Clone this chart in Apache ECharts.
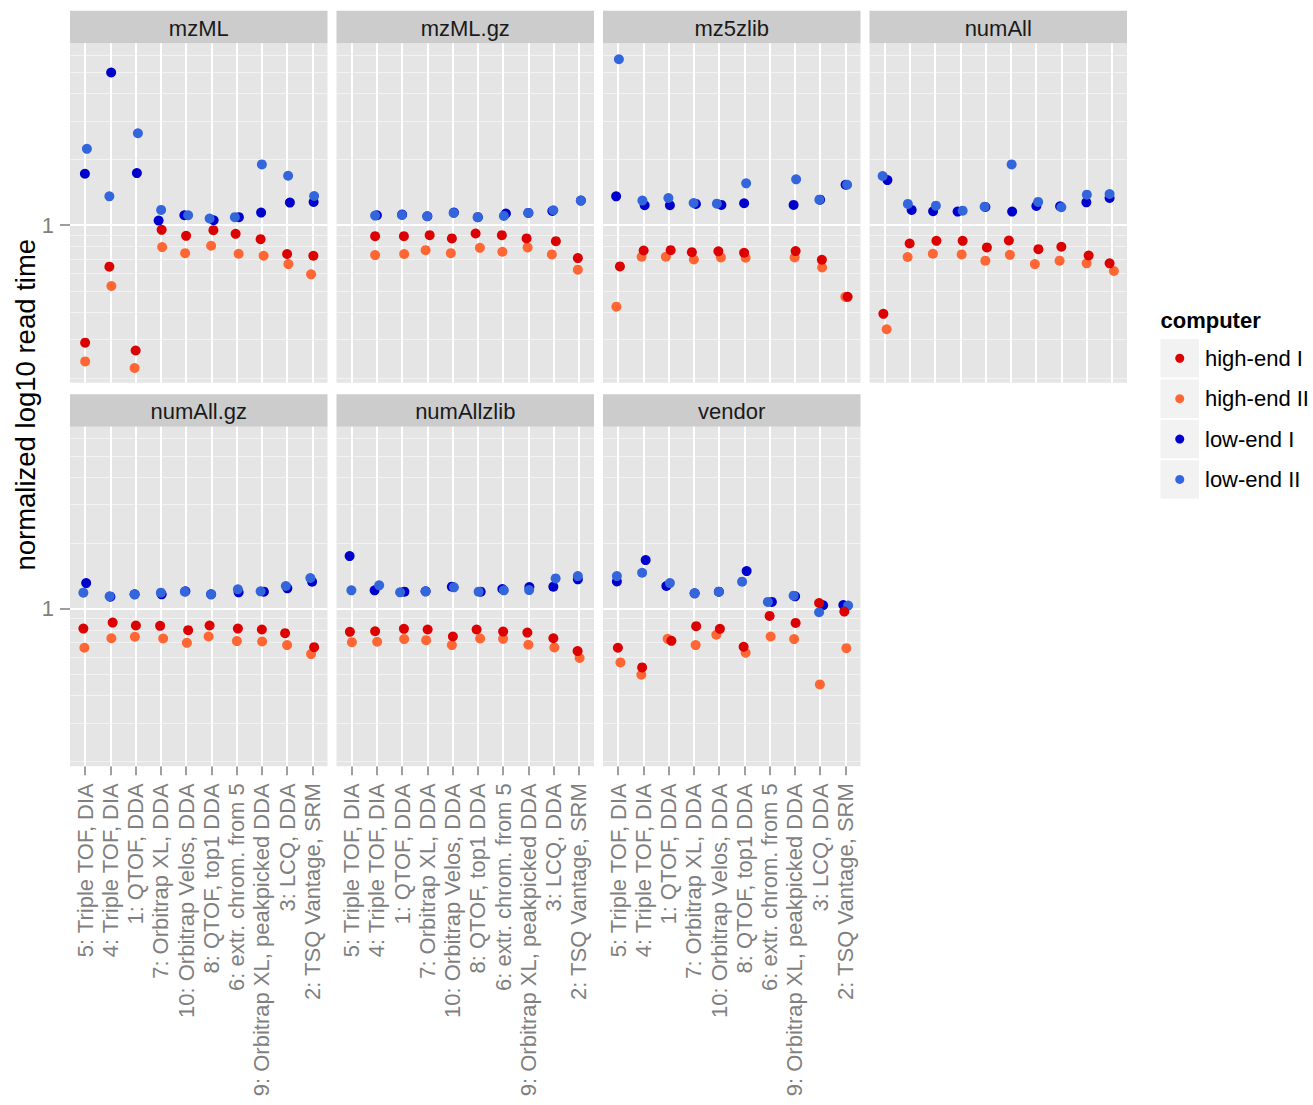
<!DOCTYPE html>
<html>
<head>
<meta charset="utf-8">
<script src="https://cdn.jsdelivr.net/npm/echarts@6/dist/echarts.min.js"></script>
<style>
  html, body { margin: 0; padding: 0; background: #ffffff; }
  #chart { width: 1313px; height: 1105px; }
</style>
</head>
<body>
<div id="chart"></div>
<script>
// File formats, one facet each (facet order)
const formats = ['mzML', 'mzML.gz', 'mz5zlib', 'numAll', 'numAll.gz', 'numAllzlib', 'vendor'];

// Data sets on the x axis
const datasets = [
  '5: Triple TOF, DIA', '4: Triple TOF, DIA', '1: QTOF, DDA', '7: Orbitrap XL, DDA',
  '10: Orbitrap Velos, DDA', '8: QTOF, top1 DDA', '6: extr. chrom. from 5',
  '9: Orbitrap XL, peakpicked DDA', '3: LCQ, DDA', '2: TSQ Vantage, SRM'
];

const computers = ['high-end I', 'high-end II', 'low-end I', 'low-end II'];
const computerColors = ['#DD0000', '#FF6633', '#0000CC', '#3366DD'];

// Normalized read times; one row per format, one entry per data set (null = no run)
const highEndI = [
  [0.290, 0.646, 0.267, 0.952, 0.894, 0.949, 0.913, 0.863, 0.738, 0.725],
  [null,  0.891, 0.891, 0.900, 0.870, 0.916, 0.900, 0.870, 0.845, 0.707],
  [0.648, 0.766, 0.769, 0.753, 0.759, 0.748, null,  0.761, 0.695, 0.470],
  [0.393, 0.825, 0.848, 0.848, 0.791, 0.851, 0.777, 0.797, 0.727, 0.669],
  [0.810, 0.863, 0.837, 0.834, 0.797, 0.837, 0.810, 0.802, 0.772, 0.666],
  [0.783, 0.788, 0.808, 0.802, 0.745, 0.802, 0.785, 0.777, 0.732, 0.639],
  [0.662, 0.538, 0.712, 0.831, 0.808, 0.669, 0.926, 0.860, 1.061, 0.969]
];
const highEndII = [
  [0.238, 0.527, 0.222, 0.794, 0.745, 0.805, 0.740, 0.725, 0.664, 0.596],
  [null,  0.730, 0.738, 0.769, 0.745, 0.788, 0.756, 0.791, 0.735, 0.626],
  [0.424, 0.717, 0.717, 0.697, 0.712, 0.710, null,  0.712, 0.641, 0.470],
  [0.334, 0.715, 0.740, 0.735, 0.688, 0.732, 0.664, 0.688, 0.669, 0.617],
  [0.662, 0.732, 0.743, 0.730, 0.697, 0.745, 0.710, 0.707, 0.681, 0.619],
  [0.702, 0.705, 0.725, 0.717, 0.681, 0.730, 0.727, 0.683, 0.664, 0.594],
  [0.567, 0.498, 0.727, 0.681, 0.759, 0.628, 0.745, 0.725, 0.450, 0.659]
];
const lowEndI = [
  [1.720, 5.000, 1.732, 1.050, 1.111, 1.054, 1.088, 1.142, 1.269, 1.278],
  [null,  1.111, 1.118, 1.099, 1.142, 1.088, 1.130, 1.138, 1.162, 1.296],
  [1.356, 1.234, 1.234, 1.251, 1.238, 1.260, null,  1.238, 1.309, 1.532],
  [1.609, 1.175, 1.158, 1.154, 1.212, 1.154, 1.225, 1.221, 1.273, 1.332],
  [1.309, 1.134, 1.162, 1.162, 1.200, 1.162, 1.187, 1.195, 1.238, 1.328],
  [1.739, 1.212, 1.195, 1.200, 1.260, 1.195, 1.229, 1.255, 1.260, 1.361],
  [1.332, 1.667, 1.269, 1.175, 1.195, 1.485, 1.073, 1.138, 1.036, 1.039]
];
const lowEndII = [
  [2.236, 1.356, 2.636, 1.175, 1.111, 1.073, 1.088, 1.897, 1.684, 1.361],
  [null,  1.107, 1.115, 1.099, 1.138, 1.088, 1.103, 1.138, 1.171, 1.296],
  [5.750, 1.296, 1.332, 1.264, 1.255, 1.554, null,  1.621, 1.309, 1.532],
  [1.679, 1.251, 1.229, 1.166, 1.216, 1.897, 1.278, 1.208, 1.380, 1.390],
  [1.183, 1.138, 1.162, 1.183, 1.195, 1.162, 1.225, 1.200, 1.269, 1.380],
  [1.212, 1.278, 1.187, 1.200, 1.251, 1.195, 1.212, 1.216, 1.375, 1.409],
  [1.409, 1.459, 1.309, 1.175, 1.195, 1.328, 1.073, 1.146, 0.962, 1.032]
];

// Horizontal jitter of each point, in category units
const jitterHighEndI = [
  [0, -0.04, 0, 0.03, 0, 0.08, -0.04, -0.05, 0, 0.04],
  [0, -0.07, 0.07, 0.09, -0.03, -0.09, -0.05, -0.07, 0.09, -0.04],
  [0.07, 0.01, 0.08, -0.08, -0.03, -0.01, 0, 0.03, 0.07, 0.09],
  [-0.05, -0.01, 0.05, 0.09, 0.05, -0.08, 0.09, 0, 0.08, -0.09],
  [-0.07, 0.09, 0.01, -0.03, 0.08, -0.07, 0.05, 0, -0.08, 0.07],
  [-0.07, -0.07, 0.07, 0.01, 0.01, -0.05, 0, -0.04, -0.01, -0.05],
  [-0.01, -0.05, 0.11, 0.09, 0.03, -0.03, 0, 0.03, -0.04, -0.04]
];
const jitterHighEndII = [
  [0, 0.04, -0.04, 0.05, -0.04, -0.01, 0.08, 0.07, 0.05, -0.05],
  [0, -0.07, 0.08, -0.07, -0.07, 0.08, -0.03, -0.03, -0.07, -0.04],
  [-0.07, -0.07, -0.11, 0, 0.07, 0.05, 0, -0.01, 0.08, 0],
  [0.08, -0.09, -0.09, 0.05, -0.01, -0.04, -0.05, -0.07, 0, 0.08],
  [-0.03, 0.04, -0.03, 0.09, 0.03, -0.11, 0.01, 0.01, 0, -0.05],
  [0.01, 0.01, 0.08, -0.05, -0.03, 0.09, 0, 0, 0.03, 0.03],
  [0.09, -0.08, -0.04, 0.07, -0.11, 0.05, 0.04, -0.03, -0.01, 0.04]
];
const jitterLowEndI = [
  [-0.01, 0.03, 0.05, -0.09, -0.07, 0.09, 0.09, -0.03, 0.11, 0.05],
  [0, 0, 0, 0, 0.05, 0, 0.11, 0, -0.05, 0.08],
  [-0.08, 0.05, 0.05, 0.08, 0.09, -0.01, 0, -0.05, 0, 0.01],
  [0.11, 0.07, -0.08, -0.11, -0.01, 0.05, 0.01, -0.05, -0.01, -0.09],
  [0.04, 0, -0.04, 0.03, -0.03, -0.01, 0.08, 0.08, 0.01, -0.01],
  [-0.08, -0.09, 0.09, -0.07, -0.03, 0.11, -0.03, 0.04, -0.01, -0.04],
  [-0.05, 0.09, -0.09, 0.03, -0.01, 0.09, 0.09, 0.01, 0.12, -0.08]
];
const jitterLowEndII = [
  [0.07, -0.04, 0.09, 0.01, 0.08, -0.07, -0.07, 0, 0.04, 0.07],
  [0, -0.07, -0.01, -0.01, 0.04, -0.01, 0.03, 0, -0.01, 0.08],
  [0.03, -0.04, -0.01, -0.01, -0.09, 0.07, 0, 0.05, -0.03, 0.07],
  [-0.08, -0.08, 0.03, 0.09, -0.04, 0.03, 0.08, 0, 0.01, -0.09],
  [-0.07, -0.03, -0.04, 0, -0.05, -0.01, 0.05, -0.05, -0.05, -0.08],
  [-0.01, 0.09, -0.08, -0.07, 0.05, 0.03, 0.03, 0.03, 0.08, -0.04],
  [-0.05, -0.05, 0.05, 0.03, -0.01, -0.09, -0.07, -0.05, -0.04, 0.11]
];

// Y axis breaks (log scale)
const yLabelBreaks = [1];
const yMinorBreaks = [0.2, 0.3, 0.4, 0.5, 0.6, 0.7, 0.8, 0.9, 2, 3, 4, 5, 6];

// ---- layout ----
const FONT = '"Liberation Sans", Arial, Helvetica, sans-serif';
const PANEL_LEFT = [70, 336.5, 603, 869.5];
const PANEL_TOP = [43.3, 426.7];
const PANEL_W = 257.5;
const PANEL_H = 339.5;
const STRIP_H = 32.5;
const Y_MIN = 0.19;
const Y_MAX = 6.8;

const seriesValues = [lowEndI, lowEndII, highEndII, highEndI];
const seriesJitter = [jitterLowEndI, jitterLowEndII, jitterHighEndII, jitterHighEndI];
const seriesComputer = [2, 3, 1, 0];

const categoryTicks = datasets.map((_, j) => j + 1);

function points(values, jitter) {
  const out = [];
  values.forEach((v, j) => {
    if (v != null) out.push([j + 1 + jitter[j], v]);
  });
  return out;
}

const grids = [], xAxes = [], yAxes = [], series = [], graphics = [];

formats.forEach((fmt, i) => {
  const row = Math.floor(i / 4), col = i % 4;
  const left = PANEL_LEFT[col], top = PANEL_TOP[row];
  const showX = row === 1;
  const showY = col === 0;

  grids.push({
    left: left, top: top, width: PANEL_W, height: PANEL_H,
    containLabel: false, outerBoundsMode: 'none',
    show: true, backgroundColor: '#E5E5E5', borderWidth: 0
  });

  xAxes.push({
    gridIndex: i, type: 'value', min: 0.4, max: 10.6,
    splitLine: { show: false }, axisLine: { show: false },
    axisTick: {
      show: showX, customValues: categoryTicks, length: 9,
      lineStyle: { color: '#7F7F7F', width: 1.5 }
    },
    axisLabel: {
      show: showX, customValues: categoryTicks, rotate: 90, margin: 17,
      hideOverlap: false,
      formatter: v => datasets[Math.round(v) - 1],
      color: '#7F7F7F', fontSize: 22, fontFamily: FONT
    }
  });

  yAxes.push({
    gridIndex: i, type: 'log', logBase: 10, min: Y_MIN, max: Y_MAX,
    splitLine: { show: false }, axisLine: { show: false },
    axisTick: {
      show: showY, customValues: yLabelBreaks, length: 10,
      lineStyle: { color: '#7F7F7F', width: 1.5 }
    },
    axisLabel: {
      show: showY, customValues: yLabelBreaks, margin: 16,
      formatter: v => String(Math.round(v * 1000) / 1000),
      color: '#7F7F7F', fontSize: 22, fontFamily: FONT
    }
  });

  // panel grid lines
  series.push({
    type: 'scatter', xAxisIndex: i, yAxisIndex: i, data: [], silent: true,
    markLine: {
      silent: true, z: 1, animation: false,
      symbol: ['none', 'none'], label: { show: false },
      emphasis: { disabled: true },
      data: [
        ...yMinorBreaks.map(v => ({ yAxis: v, lineStyle: { color: '#F2F2F2', width: 1, type: 'solid' } })),
        ...yLabelBreaks.map(v => ({ yAxis: v, lineStyle: { color: '#FFFFFF', width: 2, type: 'solid' } })),
        ...categoryTicks.map(v => ({ xAxis: v, lineStyle: { color: '#FFFFFF', width: 2, type: 'solid' } }))
      ]
    }
  });

  seriesValues.forEach((vals, s) => {
    const c = seriesComputer[s];
    series.push({
      type: 'scatter', name: computers[c], xAxisIndex: i, yAxisIndex: i,
      symbol: 'circle', symbolSize: 10, silent: true, animation: false,
      itemStyle: { color: computerColors[c], opacity: 1 },
      data: points(vals[i], seriesJitter[s][i])
    });
  });

  // facet strip
  graphics.push({
    type: 'rect', silent: true,
    shape: { x: left, y: top - STRIP_H, width: PANEL_W, height: STRIP_H },
    style: { fill: '#CCCCCC' }
  });
  graphics.push({
    type: 'text', silent: true,
    x: left + PANEL_W / 2, y: top - STRIP_H / 2 + 1,
    style: { text: fmt, fill: '#1A1A1A', fontSize: 22, fontFamily: FONT, align: 'center', verticalAlign: 'middle' }
  });
});

// y axis title
graphics.push({
  type: 'text', silent: true, x: 25, y: (PANEL_TOP[0] + PANEL_TOP[1] + PANEL_H) / 2,
  rotation: Math.PI / 2,
  style: { text: 'normalized log10 read time', fill: '#000000', fontSize: 27.5, fontFamily: FONT, align: 'center', verticalAlign: 'middle' }
});

// legend
const LEG_X = 1160.5, LEG_Y = 339, KEY = 38.5, KEY_STEP = 40.4;
graphics.push({
  type: 'text', silent: true, x: LEG_X, y: 320,
  style: { text: 'computer', fill: '#000000', fontSize: 22, fontWeight: 'bold', fontFamily: FONT, align: 'left', verticalAlign: 'middle' }
});
computers.forEach((name, k) => {
  const y = LEG_Y + k * KEY_STEP;
  graphics.push({ type: 'rect', silent: true, shape: { x: LEG_X, y: y, width: KEY, height: KEY }, style: { fill: '#F2F2F2' } });
  graphics.push({ type: 'circle', silent: true, shape: { cx: LEG_X + KEY / 2, cy: y + KEY / 2, r: 4.5 }, style: { fill: computerColors[k] } });
  graphics.push({
    type: 'text', silent: true, x: LEG_X + KEY + 6, y: y + KEY / 2,
    style: { text: name, fill: '#000000', fontSize: 22, fontFamily: FONT, align: 'left', verticalAlign: 'middle' }
  });
});

const chart = echarts.init(document.getElementById('chart'), null, { renderer: 'svg' });
chart.setOption({
  backgroundColor: '#FFFFFF',
  animation: false,
  grid: grids,
  xAxis: xAxes,
  yAxis: yAxes,
  series: series,
  graphic: graphics
});
</script>
</body>
</html>
